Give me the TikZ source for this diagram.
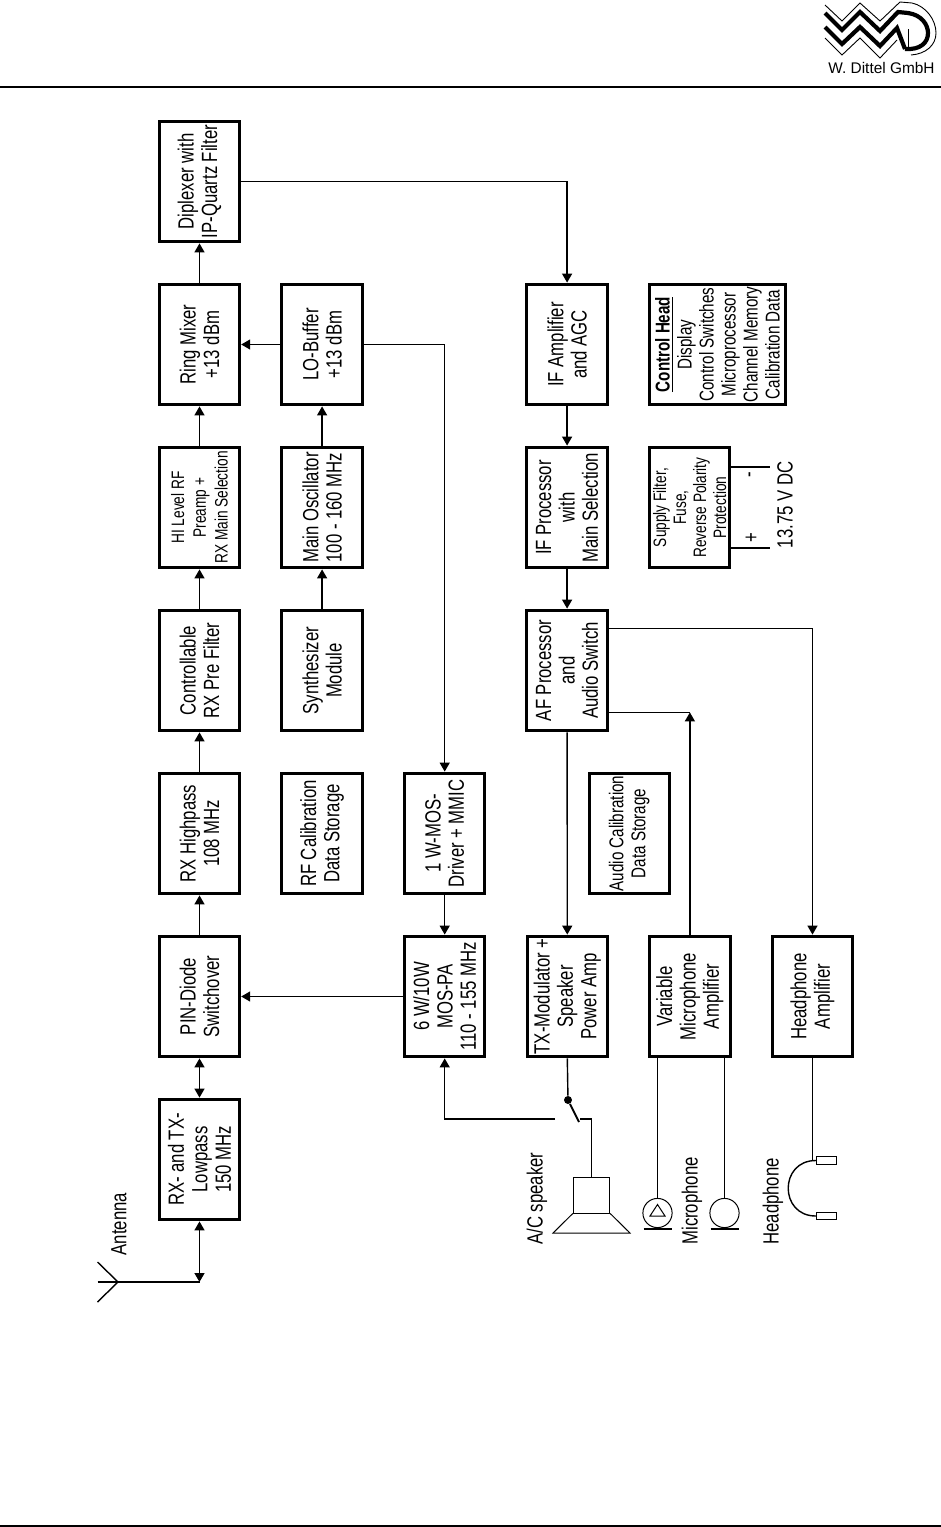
\documentclass[tikz,border=0pt]{standalone}
\usepackage{fontspec}
\setmainfont{Liberation Sans}[FakeStretch=0.76]
\newfontfamily\logofont{Liberation Sans}
\usetikzlibrary{arrows.meta,positioning}
\tikzset{
    %Define standard arrow tip
    >={Triangle[length=4.5pt,width=5pt]},
    font=\fontsize{11}{11.7}\selectfont,
    %Define style for boxes
    block/.style={
           rectangle,
           draw=black, line width=1.5pt,
           minimum width=60.4pt,
           minimum height=40.2pt,
           inner sep=0pt,
           align=center},
    smallblock/.style={block,font=\fontsize{9}{10.9}\selectfont},
    supplyblock/.style={block,font=\fontsize{9}{10}\selectfont},
    midblock/.style={block,font=\fontsize{10}{11}\selectfont},
    % Define arrow style
    wire/.style={line width=0.7pt},
    pil/.style={wire,->},
    thinpart/.style={draw=black,line width=0.5pt,inner sep=0pt},
    % Define label style
    lbl/.style={rotate=90,inner sep=0pt}
}
\begin{document}
\begin{tikzpicture}[x=0.5pt,y=-0.5pt]
  \useasboundingbox (0,0) rectangle (941,1527);
  % page rules and logo
  \coordinate (rulea) at (0,87);
  \coordinate (ruleb) at (941,87);
  \coordinate (rulec) at (0,1526);
  \coordinate (ruled) at (941,1526);
  \draw[line width=0.6pt] (rulea) -- (ruleb);
  \draw[line width=0.8pt] (rulec) -- (ruled);
  \draw[line width=0.45pt] (825,5) -- (842,21) -- (860,3) -- (880,21) -- (900,2) -- (912,3)
    .. controls (926,6) and (936,20) .. (936,33) .. controls (936,45) and (926,54) .. (911,55);
  \draw[line width=2.1pt] (825,13) -- (842,30) -- (860,12) -- (880,31) -- (898,12) -- (908,13)
    .. controls (922,15) and (928,25) .. (928,33) .. controls (928,43) and (920,50) .. (905,49);
  \draw[line width=2.1pt] (825,27) -- (842,44) -- (860,27) -- (880,46) -- (897,28) -- (905,49);
  \draw[line width=0.45pt] (825,38) -- (842,55) -- (860,38) -- (880,58) -- (897,40);
  \draw[line width=0.45pt] (908,29) -- (908,50);
  \node[font=\logofont\fontsize{7.7}{9}\selectfont,inner sep=0pt] (logoname) at (881.5,68) {W. Dittel GmbH};
  % blocks, page turned by 90 degrees
  \begin{scope}[shift={(199.5,1159.5)},rotate=90,transform shape,node distance=19.6pt]
    \node[block] (lowpass) at (0,0) {RX- and TX-\\Lowpass\\150 MHz};
    \node[block] (pin) [right=of lowpass] {PIN-Diode\\Switchover};
    \node[block] (highpass) [right=of pin] {RX Highpass\\108 MHz};
    \node[block] (prefilter) [right=of highpass] {Controllable\\RX Pre Filter};
    \node[smallblock] (preamp) [right=of prefilter] {HI Level RF\\Preamp +\\RX Main Selection};
    \node[block] (ringmix) [right=of preamp] {Ring Mixer\\+13 dBm};
    \node[block] (diplexer) [right=of ringmix] {Diplexer with\\IP-Quartz Filter};
    \node[block] (rfcal) [below=of highpass] {RF Calibration\\Data Storage};
    \node[block] (synth) [right=of rfcal] {Synthesizer\\Module};
    \node[block] (mainosc) [right=of synth] {Main Oscillator\\100 - 160 MHz};
    \node[block] (lobuf) [right=of mainosc] {LO-Buffer\\+13 dBm};
    \node[block] (driver) [below=of rfcal] {1 W-MOS-\\Driver + MMIC};
    \node[block] (pa) [left=of driver] {6 W/10W\\MOS-PA\\110 - 155 MHz};
    \node[block] (txmod) [below=of pa] {TX-Modulator +\\Speaker\\Power Amp};
    \node[block] (micamp) [below=of txmod] {Variable\\Microphone\\Amplifier};
    \node[block] (headamp) [below=of micamp] {Headphone\\Amplifier};
    \node[block] (afproc) [below=80.8pt of synth] {AF Processor\\and\\Audio Switch};
    \node[block] (ifproc) [right=of afproc] {IF Processor\\with\\Main Selection};
    \node[block] (ifamp) [right=of ifproc] {IF Amplifier\\and AGC};
    \node[midblock] (audiocal) [right=of txmod,yshift=-31pt] {Audio Calibration\\Data Storage};
    \node[supplyblock] (supply) [below=of ifproc] {Supply Filter,\\Fuse,\\Reverse Polarity\\Protection};
    \node[midblock,minimum height=68pt] (ctrlhead) [below=of ifamp]
      {\underline{\textbf{Control Head}}\\Display\\Control Switches\\Microprocessor\\Channel Memory\\Calibration Data};
  \end{scope}
  % outside parts
  \coordinate (antapex) at (118,1282);
  \coordinate (antstub) at (97.5,1282);
  \coordinate (antup) at (97.5,1262);
  \coordinate (antdown) at (97.5,1302);
  \coordinate (antcorner) at (lowpass.west |- antapex);
  \node[lbl] (antlabel) at (119,1224) {Antenna};
  \node[circle,fill=black,inner sep=0pt,minimum size=4pt] (swpivot) at (568,1100) {};
  \coordinate (swtip) at (579,1122);
  \coordinate (swleft) at (555,1119);
  \coordinate (swright) at (580,1119);
  \node[thinpart,draw,minimum width=18.2pt,minimum height=18pt] (spkbox) at (591.5,1195) {};
  \coordinate (conea) at (553,1233);
  \coordinate (coneb) at (630,1233);
  \node[lbl,anchor=west] (spklabel) at (537,1245) {A/C speaker};
  \node[thinpart,circle,draw,minimum size=14.6pt] (mica) at (657.5,1213) {};
  \node[thinpart,circle,draw,minimum size=14.6pt] (micb) at (724.5,1213) {};
  \node[lbl,anchor=west] (miclabel) at (692,1245) {Microphone};
  \node[thinpart,draw,minimum width=10.2pt,minimum height=3.8pt] (cupa) at (826.5,1160.5) {};
  \node[thinpart,draw,minimum width=10.2pt,minimum height=3.8pt] (cupb) at (826.5,1216) {};
  \node[lbl,anchor=west] (hplabel) at (773,1245) {Headphone};
  \coordinate (plusend) at (770,548);
  \coordinate (minusend) at (770,467);
  \node[lbl] (plus) at (752,538) {+};
  \node[lbl] (minus) at (752,475) {-};
  \node[lbl] (dclabel) at (785,505) {13.75 V DC};
  % connectors
  \draw[wire] (antstub) -- (antapex) -- (antcorner);
  \draw[wire] (antup) -- (antapex) -- (antdown);
  \draw[pil,<->] (antcorner) -- (lowpass.west);
  \draw[pil,<->] (lowpass) -- (pin);
  \draw[pil] (pin) -- (highpass);
  \draw[pil] (highpass) -- (prefilter);
  \draw[pil] (prefilter) -- (preamp);
  \draw[pil] (preamp) -- (ringmix);
  \draw[pil] (ringmix) -- (diplexer);
  \draw[pil] (synth) -- (mainosc);
  \draw[pil] (mainosc) -- (lobuf);
  \draw[pil] (lobuf) -- (ringmix);
  \draw[pil] (lobuf.south) -| (driver.east);
  \draw[pil] (driver) -- (pa);
  \draw[pil] (pa) -- (pin);
  \draw[pil] (diplexer.south) -| (ifamp.east);
  \draw[pil] (ifamp) -- (ifproc);
  \draw[pil] (ifproc) -- (afproc);
  \draw[pil] (afproc) -- (txmod);
  \coordinate (afhead) at ([yshift=-10pt]afproc.south east);
  \coordinate (afmic) at ([yshift=10pt]afproc.south west);
  \coordinate (micjoin) at (micamp.east |- afmic);
  \draw[pil] (afhead) -| (headamp.east);
  \draw[wire] (afmic) -- (micjoin);
  \draw[pil] (micamp.east) -- (micjoin);
  \draw[wire] (txmod.west) -- (swpivot);
  \draw[line width=1pt] (swpivot) -- (swtip);
  \draw[pil] (swleft) -| (pa.west);
  \draw[wire] (swright) -| (spkbox.north);
  \draw[line width=0.5pt] (spkbox.south west) -- (conea) -- (coneb) -- (spkbox.south east);
  \draw[wire] (mica.north) -- (mica.north |- micamp.west);
  \draw[wire] (micb.north) -- (micb.north |- micamp.west);
  \draw[line width=0.5pt] (657.5,1204.5) -- (650,1216) -- (665,1216) -- cycle;
  \draw[line width=1pt] ([xshift=-7pt,yshift=-0.5pt]mica.south) -- ([xshift=7pt,yshift=-0.5pt]mica.south);
  \draw[line width=1pt] ([xshift=-7pt,yshift=-0.5pt]micb.south) -- ([xshift=7pt,yshift=-0.5pt]micb.south);
  \draw[wire] (headamp.west) -- (headamp.west |- cupa);
  \draw[wire] (cupa.west) to[out=180,in=180,looseness=1.7] (cupb.west);
  \draw[wire] (plusend -| supply.south) -- (plusend);
  \draw[wire] (minusend -| supply.south) -- (minusend);
\end{tikzpicture}
\end{document}
